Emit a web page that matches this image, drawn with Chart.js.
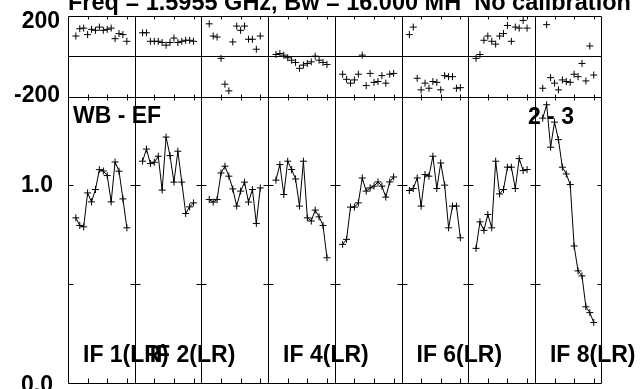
<!DOCTYPE html>
<html>
<head>
<meta charset="utf-8">
<title>WB - EF</title>
<script src="https://cdn.jsdelivr.net/npm/chart.js@4/dist/chart.umd.min.js"></script>
<style>
  html, body { margin: 0; padding: 0; background: #fff; }
  #wrap { width: 641px; height: 389px; }
</style>
</head>
<body>
<div id="wrap"><canvas id="possm" width="641" height="389"></canvas></div>
<script>
// ---------------- data ----------------
const title = 'Freq = 1.5955 GHz, Bw = 16.000 MH  No calibration';
const baseline = 'WB - EF';
const stokes = '2 - 3';

const channels = [2, 3, 4, 5, 6, 7, 8, 9, 10, 11, 12, 13, 14, 15];
const chanTicks = [5, 10, 15];
const panelSpan = 17; // each IF panel covers channels 0..17

const ifNames = ['IF 1(LR)', 'IF 2(LR)', 'IF 3(LR)', 'IF 4(LR)', 'IF 5(LR)', 'IF 6(LR)', 'IF 7(LR)', 'IF 8(LR)'];
const ifLabelled = [1, 2, 4, 6, 8];

const ampTicks = [0, 0.5, 1.0];
const ampTickText = ['0.0', '', '1.0'];
const ampRange = [0, 1.44];
const phsTicks = [-200, 200];
const phsRange = [-200, 200];

// amplitude per channel
const ampIF1 = [0.833, 0.795, 0.788, 0.958, 0.913, 0.975, 1.075, 1.068, 1.045, 0.913, 1.113, 1.067, 0.928, 0.783];
const ampIF2 = [1.117, 1.178, 1.105, 1.112, 1.142, 0.972, 1.238, 1.145, 1.012, 1.167, 1.012, 0.855, 0.888, 0.908];
const ampIF3 = [0.925, 0.912, 0.925, 1.058, 1.092, 1.042, 0.978, 0.892, 0.967, 1.012, 0.912, 0.975, 0.805, 0.983];
const ampIF4 = [1.022, 1.100, 0.950, 1.117, 1.075, 1.028, 0.892, 1.117, 0.833, 0.817, 0.872, 0.838, 0.795, 0.633];
const ampIF5 = [0.700, 0.725, 0.887, 0.887, 0.908, 1.033, 0.967, 0.983, 0.992, 1.013, 0.992, 0.937, 1.013, 1.038];
const ampIF6 = [0.970, 0.980, 1.033, 0.892, 1.050, 1.042, 1.142, 0.980, 1.108, 0.997, 0.783, 0.892, 0.892, 0.733];
const ampIF7 = [0.680, 0.813, 0.770, 0.850, 0.783, 1.117, 0.953, 0.975, 1.087, 1.087, 0.980, 1.130, 1.070, 1.075];
const ampIF8 = [1.333, 1.400, 1.187, 1.313, 1.225, 1.087, 1.053, 1.000, 0.692, 0.567, 0.542, 0.387, 0.358, 0.308];

// phase (degrees) per channel
const phsIF1 = [99, 135, 138, 106, 132, 127, 143, 127, 132, 138, 86, 111, 106, 73];
const phsIF2 = [115, 115, 73, 73, 73, 67, 54, 67, 89, 67, 73, 78, 78, 73];
const phsIF3 = [159, 99, 94, -11, -138, -171, 70, 148, 127, 148, 83, 83, 34, 99];
const phsIF4 = [8, 13, 5, -8, -20, -31, -60, -44, -36, -28, 0, -20, -31, -41];
const phsIF5 = [-89, -114, -133, -117, -89, 5, -145, -85, -129, -125, -96, -133, -89, -85];
const phsIF6 = [106, 143, -109, -166, -133, -158, -125, -129, -166, -96, -101, -101, -158, -155];
const phsIF7 = [-11, 8, 78, 99, 73, 59, 99, 111, 151, 73, 143, 138, 176, 138];
const phsIF8 = [-158, 155, -106, -133, -166, -117, -125, -129, -89, -101, -36, -122, 50, -93];

const ampSeries = [ampIF1, ampIF2, ampIF3, ampIF4, ampIF5, ampIF6, ampIF7, ampIF8];
const phsSeries = [phsIF1, phsIF2, phsIF3, phsIF4, phsIF5, phsIF6, phsIF7, phsIF8];

// ---------------- chart ----------------
const FONT = '"Liberation Sans", Arial, Helvetica, sans-serif';
const nPanels = ifNames.length;

const datasets = [];
ampSeries.forEach((amp, i) => {
  datasets.push({
    label: ifNames[i] + ' amp',
    yAxisID: 'amp',
    showLine: true,
    data: channels.map((c, k) => ({ x: i * panelSpan + c, y: amp[k] })),
    borderColor: '#000',
    borderWidth: 1,
    pointStyle: 'cross',
    pointRadius: 3.5,
    pointBorderWidth: 1,
    pointBorderColor: '#000'
  });
});
phsSeries.forEach((phs, i) => {
  datasets.push({
    label: ifNames[i] + ' phase',
    yAxisID: 'ph',
    showLine: false,
    data: channels.map((c, k) => ({ x: i * panelSpan + c, y: phs[k] })),
    borderColor: '#000',
    pointStyle: 'cross',
    pointRadius: 3.5,
    pointBorderWidth: 1,
    pointBorderColor: '#000'
  });
});

function crisp(v) { return Math.round(v) + 0.5; }

const possmFrame = {
  id: 'possmFrame',
  beforeDatasetsDraw(chart) {
    const { ctx, chartArea: a, scales } = chart;
    const x = scales.x, amp = scales.amp, ph = scales.ph;
    const L = crisp(a.left), R = crisp(a.right - 1), T = crisp(a.top), B = crisp(a.bottom - 1);
    const mid = crisp(ph.bottom);
    ctx.save();
    ctx.strokeStyle = '#000';
    ctx.lineWidth = 1;
    ctx.beginPath();
    ctx.rect(L, T, R - L, B - T);
    // amp / phase separator and zero phase line
    ctx.moveTo(L, mid); ctx.lineTo(R, mid);
    const zero = crisp(ph.getPixelForValue(0));
    ctx.moveTo(L, zero); ctx.lineTo(R, zero);
    // IF panel borders
    for (let i = 1; i < nPanels; i++) {
      const px = crisp(x.getPixelForValue(i * panelSpan));
      ctx.moveTo(px, T); ctx.lineTo(px, B);
    }
    // channel ticks
    for (let i = 0; i < nPanels; i++) {
      chanTicks.forEach(t => {
        const px = crisp(x.getPixelForValue(i * panelSpan + t));
        ctx.moveTo(px, T); ctx.lineTo(px, T + 3);
        ctx.moveTo(px, mid - 3); ctx.lineTo(px, mid + 3);
        ctx.moveTo(px, B); ctx.lineTo(px, B - 5);
      });
    }
    // amplitude ticks on each panel border
    ampTicks.forEach(v => {
      if (v === ampRange[0]) return;
      const py = crisp(amp.getPixelForValue(v));
      for (let i = 0; i <= nPanels; i++) {
        const px = crisp(x.getPixelForValue(i * panelSpan));
        ctx.moveTo(Math.max(L, px - 5), py); ctx.lineTo(Math.min(R, px + 5), py);
      }
    });
    ctx.stroke();

    // labels
    ctx.fillStyle = '#000';
    ctx.font = 'bold 23px ' + FONT;
    ctx.textAlign = 'left';
    ctx.textBaseline = 'alphabetic';
    ctx.fillText(baseline, a.left + 5, amp.top + 26);
    ctx.fillText(stokes, x.getPixelForValue(7 * panelSpan) - 7, amp.top + 27);
    ifLabelled.forEach(n => {
      ctx.fillText(ifNames[n - 1], x.getPixelForValue((n - 1) * panelSpan) + 15, amp.bottom - 22);
    });
    // phase axis labels
    ctx.textAlign = 'right';
    ctx.fillText(String(phsTicks[1]), a.left - 8, ph.getPixelForValue(phsTicks[1]) + 12);
    ctx.fillText(String(phsTicks[0]), a.left - 8, ph.getPixelForValue(phsTicks[0]) + 5);
    // title
    ctx.textAlign = 'left';
    ctx.font = 'bold 23.5px ' + FONT;
    ctx.fillText(title, a.left, 10);
    ctx.restore();
  }
};

function fixWidth(s) {
  s.width = 68;
  s.paddingTop = 0;
  s.paddingBottom = 0;
}

new Chart(document.getElementById('possm'), {
  type: 'scatter',
  data: { datasets: datasets },
  options: {
    responsive: false,
    animation: false,
    devicePixelRatio: 1,
    layout: { padding: { left: 0, right: 39.4, top: 15.5, bottom: 4 } },
    plugins: { legend: { display: false }, tooltip: { enabled: false }, title: { display: false } },
    elements: { line: { tension: 0 } },
    scales: {
      x: { type: 'linear', display: false, min: 0, max: panelSpan * nPanels },
      amp: {
        type: 'linear', position: 'left', stack: 'possm', stackWeight: 288,
        min: ampRange[0], max: ampRange[1],
        afterBuildTicks: s => { s.ticks = ampTicks.map(v => ({ value: v })); },
        afterFit: fixWidth,
        grid: { display: false, drawTicks: false },
        border: { display: false },
        ticks: {
          padding: 15,
          labelOffset: 1.5,
          color: '#000',
          font: { family: FONT, size: 23, weight: 'bold' },
          callback: v => ampTickText[ampTicks.indexOf(v)] || ''
        }
      },
      ph: {
        type: 'linear', position: 'left', stack: 'possm', stackWeight: 81.5,
        min: phsRange[0], max: phsRange[1],
        afterFit: fixWidth,
        grid: { display: false, drawTicks: false },
        border: { display: false },
        ticks: { display: false }
      }
    }
  },
  plugins: [possmFrame]
});
</script>
</body>
</html>
